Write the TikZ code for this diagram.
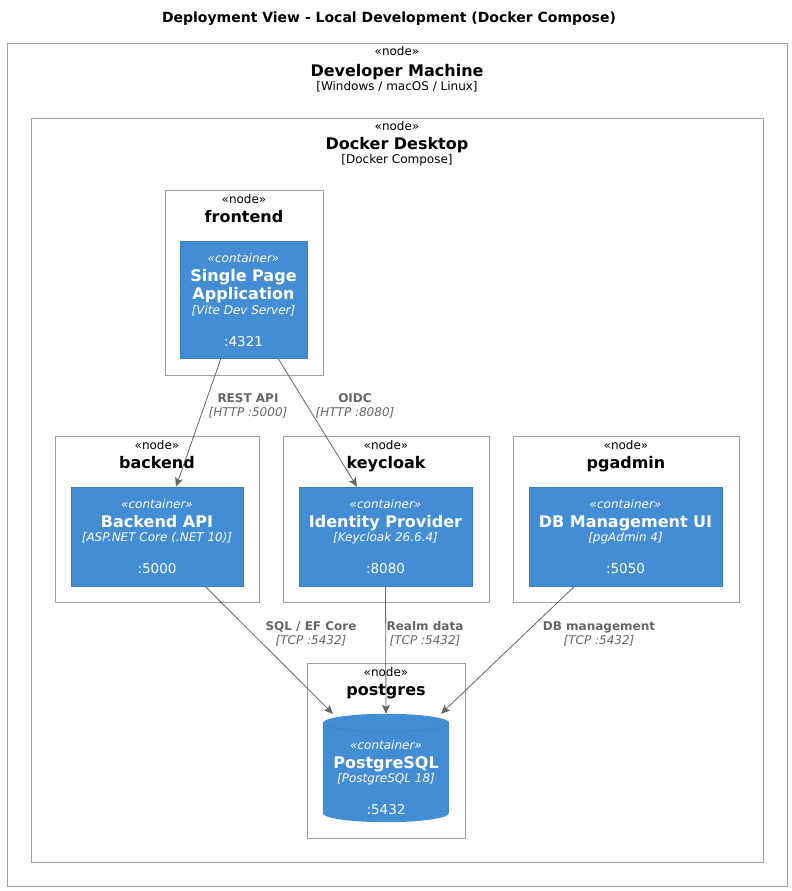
\documentclass[tikz,border=0pt]{standalone}
\usepackage{fontspec}
\setmainfont{DejaVu Sans}
\usetikzlibrary{arrows.meta}
\definecolor{ctrfill}{HTML}{438DD5}
\definecolor{ctrline}{HTML}{3C7FC0}
\definecolor{bndline}{HTML}{A0A0A0}
\definecolor{relcol}{HTML}{666666}
\tikzset{
  bnd/.style={draw=bndline, line width=1pt, fill=none, inner sep=0pt},
  ctr/.style={draw=ctrline, fill=ctrfill, line width=0.6pt, inner sep=0pt},
  txt/.style={anchor=base, inner sep=0pt, outer sep=0pt},
  stereo/.style={txt, font=\fontsize{12}{14}\selectfont},
  bname/.style={txt, font=\bfseries\fontsize{16}{19}\selectfont},
  ctstereo/.style={txt, text=white, font=\itshape\fontsize{12}{14}\selectfont},
  ctname/.style={txt, text=white, font=\bfseries\fontsize{16}{19}\selectfont},
  cttech/.style={txt, text=white, font=\itshape\fontsize{12}{14}\selectfont},
  ctport/.style={txt, text=white, font=\fontsize{13.5}{16}\selectfont},
  rel/.style={draw=relcol, line width=0.8pt, -{Stealth[length=9pt,width=8pt,inset=2pt]}},
  rlab/.style={txt, text=relcol, font=\bfseries\fontsize{12}{14}\selectfont},
  rtech/.style={txt, text=relcol, font=\itshape\fontsize{12}{14}\selectfont},
}
\begin{document}
\begin{tikzpicture}[x=1pt,y=-1pt]
\useasboundingbox[fill=white] (0,0) rectangle (792,891);

% title
\node[txt, font=\bfseries\fontsize{14}{17}\selectfont] (title) at (389,23) {Deployment View - Local Development (Docker Compose)};

% Developer Machine
\node[bnd, minimum width=780pt, minimum height=842pt] (devm) at (397,465) {};
\node[stereo] (devm-s) at (397,56) {«node»};
\node[bname] (devm-n) at (397,76) {Developer Machine};
\node[stereo] (devm-t) at (397,90) {[Windows / macOS / Linux]};

% Docker Desktop
\node[bnd, minimum width=732pt, minimum height=744pt] (dd) at (397,490) {};
\node[stereo] (dd-s) at (397,130) {«node»};
\node[bname] (dd-n) at (397,149) {Docker Desktop};
\node[stereo] (dd-t) at (397,163) {[Docker Compose]};

% frontend
\node[bnd, minimum width=158pt, minimum height=185pt] (fe) at (244,282.5) {};
\node[stereo] (fe-s) at (244,203) {«node»};
\node[bname] (fe-n) at (244,222) {frontend};
\node[ctr, minimum width=127pt, minimum height=117pt] (spa) at (243.5,299.5) {};
\node[ctstereo] (spa-s) at (243.5,262) {«container»};
\node[ctname] (spa-n1) at (243.5,281) {Single Page};
\node[ctname] (spa-n2) at (243.5,299) {Application};
\node[cttech] (spa-t) at (243.5,314) {[Vite Dev Server]};
\node[ctport] (spa-p) at (243.5,346) {:4321};

% backend
\node[bnd, minimum width=204pt, minimum height=166pt] (beb) at (157,519) {};
\node[stereo] (beb-s) at (157,449) {«node»};
\node[bname] (beb-n) at (157,468) {backend};
\node[ctr, minimum width=172pt, minimum height=99pt] (be) at (157,536.5) {};
\node[ctstereo] (be-s) at (157,508) {«container»};
\node[ctname] (be-n) at (157,527) {Backend API};
\node[cttech] (be-t) at (157,541) {[ASP.NET Core (.NET 10)]};
\node[ctport] (be-p) at (157,573) {:5000};

% keycloak
\node[bnd, minimum width=206pt, minimum height=166pt] (kcb) at (386,519) {};
\node[stereo] (kcb-s) at (386,449) {«node»};
\node[bname] (kcb-n) at (386,468) {keycloak};
\node[ctr, minimum width=173pt, minimum height=99pt] (kc) at (385.5,536.5) {};
\node[ctstereo] (kc-s) at (385.5,508) {«container»};
\node[ctname] (kc-n) at (385.5,527) {Identity Provider};
\node[cttech] (kc-t) at (385.5,541) {[Keycloak 26.6.4]};
\node[ctport] (kc-p) at (385.5,573) {:8080};

% pgadmin
\node[bnd, minimum width=226pt, minimum height=166pt] (pab) at (626,519) {};
\node[stereo] (pab-s) at (626,449) {«node»};
\node[bname] (pab-n) at (626,468) {pgadmin};
\node[ctr, minimum width=193pt, minimum height=99pt] (pa) at (625.5,536.5) {};
\node[ctstereo] (pa-s) at (625.5,508) {«container»};
\node[ctname] (pa-n) at (625.5,527) {DB Management UI};
\node[cttech] (pa-t) at (625.5,541) {[pgAdmin 4]};
\node[ctport] (pa-p) at (625.5,573) {:5050};

% postgres
\node[bnd, minimum width=158pt, minimum height=175pt] (pgb) at (386,750.5) {};
\node[stereo] (pgb-s) at (386,676) {«node»};
\node[bname] (pgb-n) at (386,695) {postgres};
\node[inner sep=0pt, minimum width=126pt, minimum height=108pt] (pg) at (386,768) {};
\fill[ctrfill] ([yshift=-9pt]pg.north west) -- ([yshift=9pt]pg.south west)
   arc[start angle=180, end angle=360, x radius=63pt, y radius=9pt]
   -- ([yshift=-9pt]pg.north east)
   arc[start angle=0, end angle=180, x radius=63pt, y radius=9pt] -- cycle;
\draw[ctrline, line width=0.5pt] ([yshift=-9pt]pg.north west)
   arc[start angle=180, end angle=360, x radius=63pt, y radius=9pt];
\node[ctstereo] (pg-s) at (386,749) {«container»};
\node[ctname] (pg-n) at (386,768) {PostgreSQL};
\node[cttech] (pg-t) at (386,782) {[PostgreSQL 18]};
\node[ctport] (pg-p) at (386,814) {:5432};

% relations
\draw[rel] ([xshift=-22.5pt]spa.south) -- ([xshift=19pt]be.north);
\node[rlab] (r1a) at (248,402) {REST API};
\node[rtech] (r1b) at (248,416) {[HTTP :5000]};

\draw[rel] ([xshift=34.5pt]spa.south) -- ([xshift=-28.5pt]kc.north);
\node[rlab] (r2a) at (355,402) {OIDC};
\node[rtech] (r2b) at (355,416) {[HTTP :8080]};

\draw[rel] ([xshift=48pt]be.south) -- ([xshift=-53pt]pg.north);
\node[rlab] (r3a) at (311,630) {SQL / EF Core};
\node[rtech] (r3b) at (311,644) {[TCP :5432]};

\draw[rel] (kc.south) -- (pg.north);
\node[rlab] (r4a) at (425,630) {Realm data};
\node[rtech] (r4b) at (425,644) {[TCP :5432]};

\draw[rel] ([xshift=-51pt]pa.south) -- ([xshift=55pt]pg.north);
\node[rlab] (r5a) at (599,630) {DB management};
\node[rtech] (r5b) at (599,644) {[TCP :5432]};
\end{tikzpicture}
\end{document}
